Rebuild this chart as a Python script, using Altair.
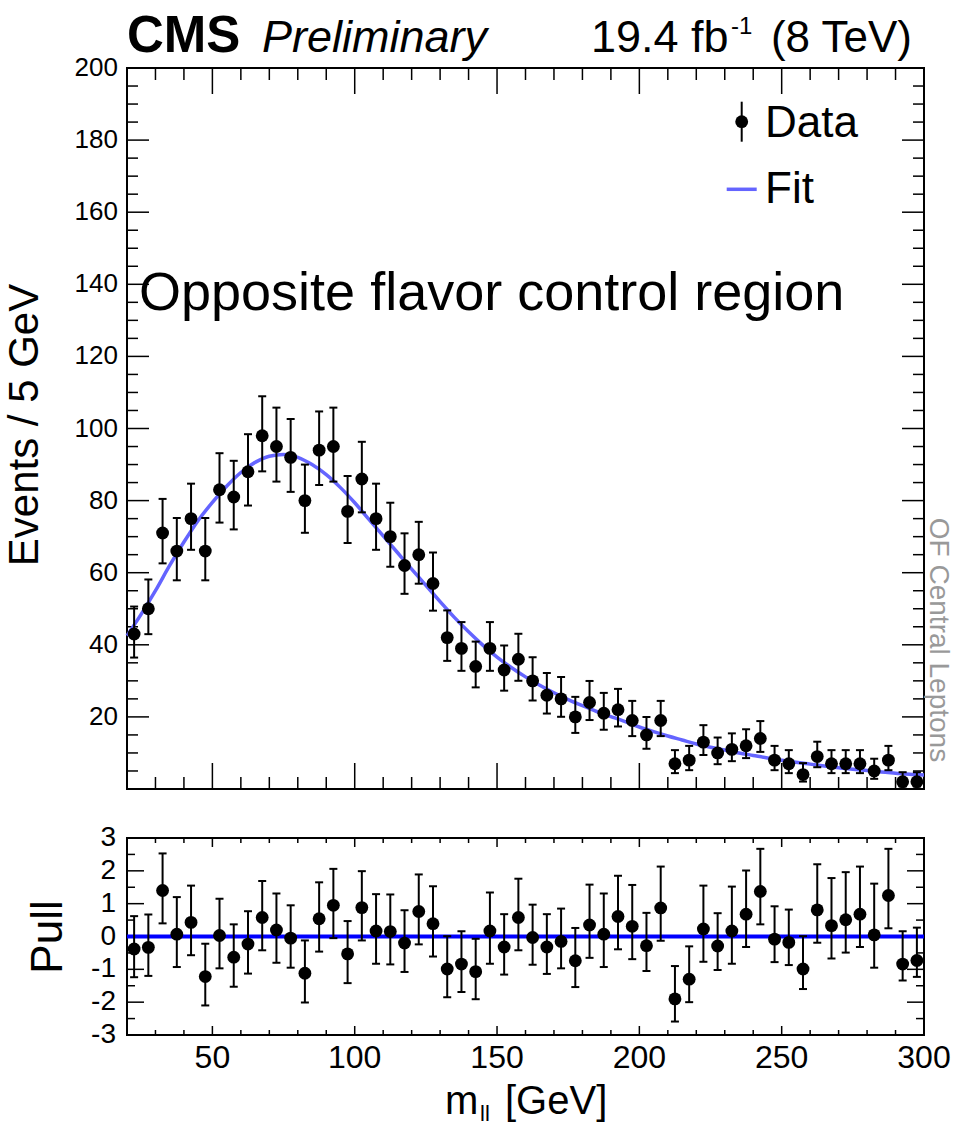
import altair as alt
import pandas as pd

# ---------------- data ----------------
mass = [22.5, 27.5, 32.5, 37.5, 42.5, 47.5, 52.5, 57.5, 62.5, 67.5,
        72.5, 77.5, 82.5, 87.5, 92.5, 97.5, 102.5, 107.5, 112.5, 117.5,
        122.5, 127.5, 132.5, 137.5, 142.5, 147.5, 152.5, 157.5, 162.5, 167.5,
        172.5, 177.5, 182.5, 187.5, 192.5, 197.5, 202.5, 207.5, 212.5, 217.5,
        222.5, 227.5, 232.5, 237.5, 242.5, 247.5, 252.5, 257.5, 262.5, 267.5,
        272.5, 277.5, 282.5, 287.5, 292.5, 297.5]
events = [43, 50, 71, 66, 75, 66, 83, 81, 88, 98,
          95, 92, 80, 94, 95, 77, 86, 75, 70, 62,
          65, 57, 42, 39, 34, 39, 33, 36, 30, 26,
          25, 20, 24, 21, 22, 19, 15, 19, 7, 8,
          13, 10, 11, 12, 14, 8, 7, 4, 9, 7,
          7, 7, 5, 8, 2, 2]
err_low = [6.54, 7.05, 8.41, 8.11, 8.65, 8.11, 9.10, 8.99, 9.37, 9.89,
           9.73, 9.58, 8.93, 9.68, 9.73, 8.76, 9.26, 8.65, 8.35, 7.86,
           8.05, 7.53, 6.46, 6.22, 5.81, 6.22, 5.72, 5.98, 5.45, 5.07,
           4.97, 4.44, 4.87, 4.56, 4.66, 4.33, 3.84, 4.33, 2.60, 2.78,
           3.57, 3.12, 3.28, 3.43, 3.71, 2.78, 2.60, 1.94, 2.96, 2.60,
           2.60, 2.60, 2.18, 2.78, 1.32, 1.32]
err_high = [7.61, 8.12, 9.47, 9.17, 9.70, 9.17, 10.15, 10.04, 10.42, 10.94,
            10.79, 10.63, 9.99, 10.73, 10.79, 9.82, 10.31, 9.70, 9.41, 8.92,
            9.11, 8.60, 7.54, 7.30, 6.89, 7.30, 6.81, 7.06, 6.55, 6.17,
            6.07, 5.56, 5.97, 5.66, 5.77, 5.44, 4.97, 5.44, 3.78, 3.96,
            4.71, 4.28, 4.43, 4.57, 4.84, 3.96, 3.78, 3.18, 4.12, 3.78,
            3.78, 3.78, 3.40, 3.96, 2.66, 2.66]
pull = [-0.38, -0.33, 1.40, 0.07, 0.43, -1.22, 0.03, -0.63, -0.23, 0.58,
        0.20, -0.05, -1.12, 0.54, 0.95, -0.53, 0.88, 0.17, 0.15, -0.20,
        0.76, 0.39, -0.99, -0.84, -1.07, 0.17, -0.32, 0.58, -0.03, -0.32,
        -0.15, -0.74, 0.35, 0.07, 0.61, 0.31, -0.28, 0.87, -1.90, -1.30,
        0.23, -0.29, 0.17, 0.68, 1.37, -0.08, -0.18, -0.99, 0.81, 0.33,
        0.51, 0.68, 0.05, 1.25, -0.84, -0.73]
pull_err_low = [0.86, 0.87, 1, 1, 1, 0.88, 1, 0.90, 0.90, 1,
                1, 0.90, 0.89, 1, 1, 0.89, 1, 1, 1, 0.88,
                1, 1, 0.86, 0.85, 0.84, 1, 0.84, 1, 0.83, 0.82,
                0.82, 0.80, 1, 1, 1, 1, 0.77, 1, 0.69, 0.70,
                1, 0.73, 1, 1, 1, 0.70, 0.69, 0.61, 1, 1,
                1, 1, 1, 1, 0.50, 0.50]
pull_err_high = [1, 1, 1.13, 1.13, 1.12, 1, 1.12, 1, 1, 1.11,
                 1.11, 1, 1, 1.11, 1.11, 1, 1.11, 1.12, 1.13, 1,
                 1.13, 1.14, 1, 1, 1, 1.17, 1, 1.18, 1, 1,
                 1, 1, 1.23, 1.24, 1.24, 1.26, 1, 1.26, 1, 1,
                 1.32, 1, 1.35, 1.33, 1.30, 1, 1, 1, 1.39, 1.45,
                 1.45, 1.45, 1.56, 1.42, 1, 1]
fit_mass = [20, 25, 30, 35, 40, 45, 50, 55, 60, 65,
            70, 75, 80, 85, 90, 95, 100, 105, 110, 115,
            120, 125, 130, 135, 140, 145, 150, 155, 160, 165,
            170, 175, 180, 185, 190, 195, 200, 205, 210, 215,
            220, 225, 230, 235, 240, 245, 250, 255, 260, 265,
            270, 275, 280, 285, 290, 295, 300]
fit_events = [42.5, 48.5, 55.0, 62.0, 68.5, 74.5, 79.5, 84.0, 87.8, 90.6,
              92.3, 92.8, 92.0, 90.0, 87.2, 83.6, 79.4, 74.8, 70.2, 65.6,
              61.0, 56.5, 52.0, 47.6, 43.6, 39.9, 36.6, 33.7, 31.1, 28.8,
              26.7, 24.8, 23.1, 21.5, 20.1, 18.7, 17.2, 15.9, 14.7, 13.6,
              12.5, 11.6, 10.8, 10.0, 9.3, 8.6, 8.0, 7.4, 6.9, 6.4,
              5.9, 5.5, 5.1, 4.7, 4.4, 4.1, 3.9]

top_y_labels = [20, 40, 60, 80, 100, 120, 140, 160, 180, 200]
pull_y_labels = [3, 2, 1, 0, -1, -2, -3]
x_labels = [50, 100, 150, 200, 250, 300]
x_domain = [20, 300]
top_domain = [0, 200]
pull_domain = [-3, 3]

top_y_major = list(range(0, 201, 20))
top_y_minor = [v for v in range(0, 201, 5) if v % 20 != 0]
x_major = [50, 100, 150, 200, 250, 300]
x_minor = [v for v in range(30, 300, 10) if v % 50 != 0]
pull_y_major = [-3, -2, -1, 0, 1, 2, 3]
pull_y_minor = [-2.5, -1.5, -0.5, 0.5, 1.5, 2.5]

# ---------------- layout ----------------
W, H = 797, 967
TOP_H = 721
PULL_TOP = 770
FONT = "Liberation Sans"
FIT_COLOR = "#6464ff"
PT_SIZE = 165

xs = alt.Scale(domain=x_domain, nice=False, zero=False)
ys_top = alt.Scale(domain=top_domain, range=[TOP_H, 0], nice=False, zero=False)
ys_pull = alt.Scale(domain=pull_domain, range=[H, PULL_TOP], nice=False, zero=False)

df = pd.DataFrame({
    "m": mass, "n": events,
    "lo": [n - e for n, e in zip(events, err_low)],
    "hi": [n + e for n, e in zip(events, err_high)],
    "pull": pull,
    "plo": [p - e for p, e in zip(pull, pull_err_low)],
    "phi": [p + e for p, e in zip(pull, pull_err_high)],
})
fit_df = pd.DataFrame({"m": fit_mass, "f": fit_events})


def X(field):
    return alt.X(field, scale=xs, axis=None)


def hticks(values, scale, x0, x1):
    return alt.Chart(pd.DataFrame({"v": values})).mark_rule(
        color="black", strokeWidth=1.5).encode(
        y=alt.Y("v:Q", scale=scale, axis=None), x=alt.value(x0), x2=alt.value(x1))


def vticks(values, y0, y1):
    return alt.Chart(pd.DataFrame({"v": values})).mark_rule(
        color="black", strokeWidth=1.5).encode(
        x=X("v:Q"), y=alt.value(y0), y2=alt.value(y1))


def label(text, x, y, size, align="left", baseline="alphabetic", angle=0,
          color="black", weight="normal", style="normal"):
    props = dict(align=align, baseline=baseline, fontSize=size, font=FONT,
                 color=color, fontWeight=weight, fontStyle=style)
    if angle:
        props["angle"] = angle
    return alt.Chart(pd.DataFrame({"t": [text]})).mark_text(**props).encode(
        text="t:N", x=alt.value(x), y=alt.value(y))


def frame(scale, domain):
    fdf = pd.DataFrame({"x0": [x_domain[0]], "x1": [x_domain[1]],
                        "y0": [domain[0]], "y1": [domain[1]]})
    return alt.Chart(fdf).mark_rect(fillOpacity=0, stroke="black", strokeWidth=2).encode(
        x=X("x0:Q"), x2="x1:Q", y=alt.Y("y0:Q", scale=scale, axis=None), y2="y1:Q")


base = alt.Chart(df)

# ---------------- top panel ----------------
top_ylab = alt.Chart(pd.DataFrame({"v": top_y_labels,
                                   "s": [str(v) for v in top_y_labels]})).mark_text(
    align="right", baseline="middle", fontSize=26, font=FONT, color="black").encode(
    y=alt.Y("v:Q", scale=ys_top, axis=None), x=alt.value(-9), text="s:N")

fit_line = alt.Chart(fit_df).mark_line(color=FIT_COLOR, strokeWidth=3.5,
                                       interpolate="monotone").encode(
    x=X("m:Q"), y=alt.Y("f:Q", scale=ys_top, axis=None))

top_bars = base.mark_rule(color="black", strokeWidth=2).encode(
    x=X("m:Q"), y=alt.Y("lo:Q", scale=ys_top, axis=None), y2="hi:Q")
top_cap_lo = base.mark_tick(orient="horizontal", size=8, thickness=2,
                            color="black", opacity=1).encode(
    x=X("m:Q"), y=alt.Y("lo:Q", scale=ys_top, axis=None))
top_cap_hi = base.mark_tick(orient="horizontal", size=8, thickness=2,
                            color="black", opacity=1).encode(
    x=X("m:Q"), y=alt.Y("hi:Q", scale=ys_top, axis=None))
top_pts = base.mark_circle(size=PT_SIZE, color="black", opacity=1).encode(
    x=X("m:Q"), y=alt.Y("n:Q", scale=ys_top, axis=None))

leg_bar = alt.Chart(pd.DataFrame({"t": ["Data"]})).mark_rule(
    color="black", strokeWidth=2).encode(
    x=alt.value(614.7), y=alt.value(33.7), y2=alt.value(73.7))
leg_pt = alt.Chart(pd.DataFrame({"t": ["Data"]})).mark_circle(
    size=PT_SIZE, color="black", opacity=1).encode(x=alt.value(614.7), y=alt.value(53.7))
leg_fit = alt.Chart(pd.DataFrame({"t": ["Fit"]})).mark_rule(
    color=FIT_COLOR, strokeWidth=3.5).encode(
    x=alt.value(599.7), x2=alt.value(629.7), y=alt.value(121.3))

top = alt.layer(
    frame(ys_top, top_domain),
    hticks(top_y_major, ys_top, 0, 22),
    hticks(top_y_minor, ys_top, 0, 11),
    hticks(top_y_major, ys_top, W, W - 22),
    hticks(top_y_minor, ys_top, W, W - 11),
    vticks(x_major, TOP_H, TOP_H - 26),
    vticks(x_minor, TOP_H, TOP_H - 12),
    vticks(x_major, 0, 26),
    vticks(x_minor, 0, 12),
    top_ylab,
    fit_line, top_bars, top_cap_lo, top_cap_hi, top_pts,
    leg_bar, leg_pt, leg_fit,
    label("Data", 638, 68.7, 44),
    label("Fit", 638, 135.3, 44),
    label("Opposite flavor control region", 12, 242, 54),
    label("CMS", 0, -16, 51, weight="bold"),
    label("Preliminary", 135, -16, 45, style="italic"),
    label("19.4 fb", 464, -16, 45),
    label("-1", 604, -34, 24),
    label("(8 TeV)", 785, -16, 44, align="right"),
    label("Events / 5 GeV", -89, 357, 42, align="center", angle=270),
    label("OF Central Leptons", 811, 572, 28, align="center", baseline="middle",
          angle=90, color="#999999"),
)

# ---------------- pull panel ----------------
pull_ylab = alt.Chart(pd.DataFrame({"v": pull_y_labels,
                                    "s": [str(v) for v in pull_y_labels]})).mark_text(
    align="right", baseline="middle", fontSize=28, font=FONT, color="black").encode(
    y=alt.Y("v:Q", scale=ys_pull, axis=None), x=alt.value(-11), text="s:N")
x_lab = alt.Chart(pd.DataFrame({"v": x_labels,
                                "s": [str(v) for v in x_labels]})).mark_text(
    align="center", baseline="alphabetic", fontSize=32, font=FONT, color="black").encode(
    x=X("v:Q"), y=alt.value(1000), text="s:N")

zero_line = alt.Chart(pd.DataFrame({"x0": [x_domain[0]], "x1": [x_domain[1]], "y": [0]})).mark_rule(
    color="#0000ff", strokeWidth=4).encode(
    x=X("x0:Q"), x2="x1:Q", y=alt.Y("y:Q", scale=ys_pull, axis=None))

pull_bars = base.mark_rule(color="black", strokeWidth=2).encode(
    x=X("m:Q"), y=alt.Y("plo:Q", scale=ys_pull, axis=None), y2="phi:Q")
pull_cap_lo = base.mark_tick(orient="horizontal", size=8, thickness=2,
                             color="black", opacity=1).encode(
    x=X("m:Q"), y=alt.Y("plo:Q", scale=ys_pull, axis=None))
pull_cap_hi = base.mark_tick(orient="horizontal", size=8, thickness=2,
                             color="black", opacity=1).encode(
    x=X("m:Q"), y=alt.Y("phi:Q", scale=ys_pull, axis=None))
pull_pts = base.mark_circle(size=PT_SIZE, color="black", opacity=1).encode(
    x=X("m:Q"), y=alt.Y("pull:Q", scale=ys_pull, axis=None))

pull_panel = alt.layer(
    frame(ys_pull, pull_domain),
    hticks(pull_y_major, ys_pull, 0, 17),
    hticks(pull_y_minor, ys_pull, 0, 8),
    hticks(pull_y_major, ys_pull, W, W - 17),
    hticks(pull_y_minor, ys_pull, W, W - 8),
    vticks(x_major, H, H - 9),
    vticks(x_minor, H, H - 5),
    vticks(x_major, PULL_TOP, PULL_TOP + 9),
    vticks(x_minor, PULL_TOP, PULL_TOP + 5),
    pull_ylab, x_lab,
    zero_line, pull_bars, pull_cap_lo, pull_cap_hi, pull_pts,
    label("Pull", -65, 869, 44, align="center", angle=270),
    label("m", 318, 1046, 40),
    label("ll", 353, 1053, 22),
    label("[GeV]", 378, 1046, 40),
)

chart = alt.layer(top, pull_panel).resolve_scale(y="independent").properties(
    width=W, height=H,
    autosize=alt.AutoSizeParams(type="none"),
    padding={"left": 127, "top": 68, "right": 30, "bottom": 94},
    background="white",
).configure_view(strokeWidth=0)

chart.save("out.html", embed_options={"renderer": "svg", "actions": False})
